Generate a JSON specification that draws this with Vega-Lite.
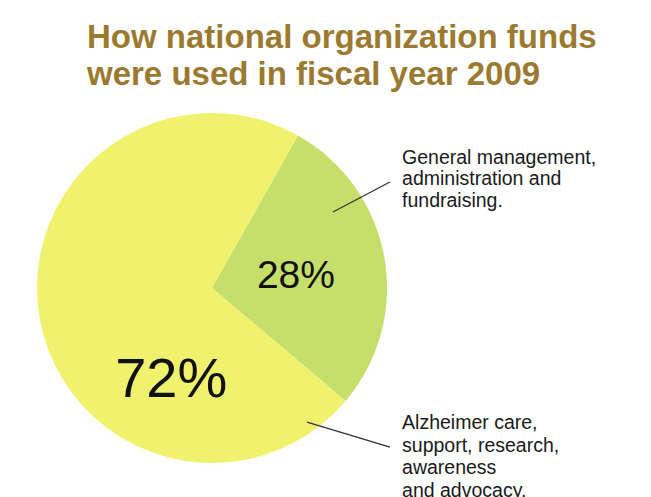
{
  "$schema": "https://vega.github.io/schema/vega-lite/v6.json",
  "autosize": {"type": "none"},
  "width": 350,
  "height": 350,
  "padding": {"left": 37, "top": 113, "right": 264, "bottom": 34},
  "background": "white",
  "config": {"view": {"stroke": null}},
  "title": {
    "text": ["How national organization funds", "were used in fiscal year 2009"],
    "anchor": "start",
    "frame": "group",
    "dx": 50,
    "offset": 21,
    "font": "Liberation Sans",
    "fontSize": 33,
    "fontWeight": "bold",
    "lineHeight": 37,
    "color": "#9b7a2f"
  },
  "data": {
    "values": [
      {"category": "General management", "value": 28, "pct": "28%", "desc": "General management,\nadministration and\nfundraising."},
      {"category": "Alzheimer care", "value": 72, "pct": "72%", "desc": "Alzheimer care,\nsupport, research,\nawareness\nand advocacy."}
    ]
  },
  "encoding": {
    "theta": {"field": "value", "type": "quantitative", "stack": true, "scale": {"range": [0.513, 6.796]}},
    "order": {"field": "value", "sort": "ascending"}
  },
  "layer": [
    {
      "mark": {"type": "arc", "stroke": null},
      "encoding": {
        "color": {
          "field": "category",
          "type": "nominal",
          "scale": {"domain": ["General management", "Alzheimer care"], "range": ["#c6de6a", "#f0f26e"]},
          "legend": null
        }
      }
    },
    {
      "mark": {
        "type": "text",
        "font": "Liberation Sans",
        "color": "#111111",
        "baseline": "middle",
        "align": "center",
        "radius": {"expr": "datum.category == 'Alzheimer care' ? 98 : 85"},
        "thetaOffset": {"expr": "datum.category == 'Alzheimer care' ? -0.963 : 0.02"},
        "dy": {"expr": "datum.category == 'Alzheimer care' ? 3 : 1"}
      },
      "encoding": {
        "text": {"field": "pct"},
        "size": {
          "field": "category",
          "type": "nominal",
          "scale": {"domain": ["General management", "Alzheimer care"], "range": [39, 56]},
          "legend": null
        }
      }
    },
    {
      "transform": [{"filter": "datum.category == 'General management'"}],
      "mark": {"type": "text", "align": "left", "baseline": "alphabetic", "lineBreak": "\n", "lineHeight": 21.5, "font": "Liberation Sans", "fontSize": 19.5, "color": "#1a1a1a"},
      "encoding": {
        "theta": null,
        "order": null,
        "x": {"datum": 1.086, "type": "quantitative", "scale": {"domain": [-1, 1]}, "axis": null},
        "y": {"datum": 0.709, "type": "quantitative", "scale": {"domain": [-1, 1]}, "axis": null},
        "text": {"field": "desc"}
      }
    },
    {
      "transform": [{"filter": "datum.category == 'Alzheimer care'"}],
      "mark": {"type": "text", "align": "left", "baseline": "alphabetic", "lineBreak": "\n", "lineHeight": 22.5, "font": "Liberation Sans", "fontSize": 19.5, "color": "#1a1a1a"},
      "encoding": {
        "theta": null,
        "order": null,
        "x": {"datum": 1.086, "type": "quantitative", "scale": {"domain": [-1, 1]}, "axis": null},
        "y": {"datum": -0.806, "type": "quantitative", "scale": {"domain": [-1, 1]}, "axis": null},
        "text": {"field": "desc"}
      }
    },
    {
      "transform": [{"filter": "datum.category == 'General management'"}],
      "mark": {"type": "rule", "color": "#333333", "strokeWidth": 1.3},
      "encoding": {
        "theta": null,
        "order": null,
        "x": {"datum": 0.691, "type": "quantitative", "scale": {"domain": [-1, 1]}, "axis": null},
        "y": {"datum": 0.434, "type": "quantitative", "scale": {"domain": [-1, 1]}, "axis": null},
        "x2": {"datum": 1.017},
        "y2": {"datum": 0.606}
      }
    },
    {
      "transform": [{"filter": "datum.category == 'Alzheimer care'"}],
      "mark": {"type": "rule", "color": "#333333", "strokeWidth": 1.3},
      "encoding": {
        "theta": null,
        "order": null,
        "x": {"datum": 0.543, "type": "quantitative", "scale": {"domain": [-1, 1]}, "axis": null},
        "y": {"datum": -0.766, "type": "quantitative", "scale": {"domain": [-1, 1]}, "axis": null},
        "x2": {"datum": 1.017},
        "y2": {"datum": -0.909}
      }
    }
  ]
}
